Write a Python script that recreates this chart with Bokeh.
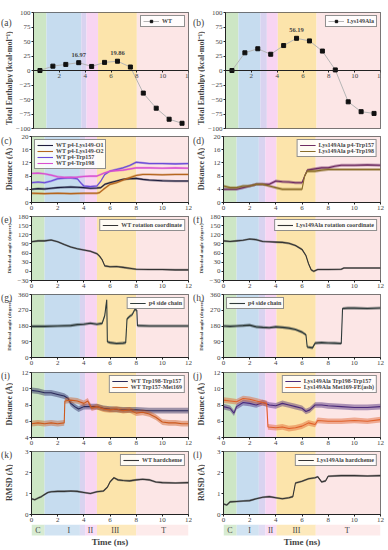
import numpy as np
from bokeh.plotting import figure
from bokeh.layouts import column, row
from bokeh.models import BoxAnnotation, Label, Legend, LegendItem, Range1d
from bokeh.embed import file_html
from bokeh.resources import INLINE

FONT = "Liberation Serif"

# ---------------- data ----------------
T_TICKS = [0, 2, 4, 6, 8, 10, 12]
PHASE_COLORS = ["#cde6c5", "#c6dcef", "#d9d3f0", "#f8d5f2", "#fce4ab", "#fce6e6"]
WT_EDGES = [0, 1.0, 3.7, 4.1, 5.0, 8.0, 12]
LYS_EDGES = [0, 1.0, 2.7, 3.2, 4.05, 7.05, 12]
PHASE_NAMES = ["C", "I", "II", "III", "T"]
WT_NAME_X = [0.5, 2.85, 4.5, 6.4, 10.1]
LYS_NAME_X = [0.5, 2.0, 3.6, 5.57, 9.46]

WINDOW_T = [0.5, 1.5, 2.5, 3.5, 4.5, 5.5, 6.5, 7.5, 8.5, 9.5, 10.5, 11.5]
WT_ENTHALPY = [0, 7.5, 10.5, 13.5, 7, 14, 16, 6, -39, -65, -84, -91]
LYS_ENTHALPY = [0, 30.5, 37.5, 28, 43, 55.5, 51, 33.5, 1, -54, -71, -74]
WT_PEAKS = [(3, "16.97"), (6, "19.86")]
LYS_PEAKS = [(5, "56.19")]
ENTHALPY_TICKS = [-100, -75, -50, -25, 0, 25, 50, 75, 100]

# (c) WT distances
WT_O1_T = [0, 0.5, 1, 1.5, 2, 2.5, 3, 3.5, 4, 4.5, 5, 5.3, 5.6, 6, 6.5, 7, 7.5, 8, 8.5, 9, 10, 11, 12]
WT_O1_V = [4.0, 4.2, 4.1, 4.3, 4.5, 4.6, 4.7, 4.6, 4.5, 4.3, 4.4, 4.5, 5.5, 6.0, 6.5, 7.0, 7.2, 7.3, 7.0, 6.8, 6.6, 6.5, 6.5]
WT_O2_T = [0, 1, 2, 3, 4, 5, 5.2, 5.5, 6, 6.5, 7, 7.5, 8, 8.5, 9, 10, 11, 12]
WT_O2_V = [2.8, 2.7, 2.8, 2.7, 2.8, 2.8, 3.0, 4.0, 5.5, 6.0, 6.8, 7.5, 8.2, 8.5, 8.5, 8.4, 8.5, 8.5]
WT_W157_T = [0, 0.5, 1, 1.5, 2, 2.5, 3, 3.5, 3.8, 4, 4.5, 5, 5.3, 5.6, 6, 6.5, 7, 7.5, 8, 8.5, 9, 10, 11, 12]
WT_W157_V = [6.0, 6.2, 6.0, 6.5, 7.2, 7.4, 7.5, 7.2, 5.8, 5.0, 4.8, 5.0, 6.5, 8.5, 9.5, 10.0, 10.5, 11.2, 12.2, 12.0, 11.8, 11.8, 11.7, 11.8]
WT_W198_T = [0, 0.5, 1, 1.5, 2, 2.5, 3, 3.5, 4, 4.5, 5, 5.3, 5.6, 6, 7, 8, 9, 10, 11, 12]
WT_W198_V = [8.8, 8.9, 8.7, 8.3, 7.8, 7.6, 7.6, 7.7, 7.9, 8.0, 8.0, 8.5, 9.0, 9.5, 9.8, 10.5, 10.5, 10.4, 10.5, 10.4]

# (d) Lys149Ala distances
LYS_W157_T = [0, 0.5, 1, 1.5, 2, 2.5, 3, 3.5, 4, 4.5, 5, 5.5, 6, 6.2, 6.4, 7, 7.5, 8, 8.5, 9, 10, 11, 12]
LYS_W157_V = [4.0, 4.0, 4.0, 4.5, 5.0, 5.5, 5.5, 5.5, 6.5, 6.3, 6.2, 6.0, 6.0, 8.0, 9.8, 10.2, 10.5, 10.5, 11.0, 11.3, 11.3, 11.4, 11.3]
LYS_W198_T = [0, 0.5, 1, 1.5, 2, 2.5, 3, 3.5, 4, 4.5, 5, 5.5, 6, 6.2, 6.4, 7, 7.5, 8, 8.5, 9, 10, 11, 12]
LYS_W198_V = [5.0, 4.5, 4.5, 5.0, 5.0, 5.5, 5.5, 5.0, 4.5, 4.0, 4.0, 4.0, 4.0, 8.0, 9.5, 9.5, 9.8, 10.0, 10.0, 10.0, 10.0, 10.0, 10.0]

# (e)/(f) rotation coordinate
WT_ROT_T = [0, 0.5, 1, 1.5, 2, 2.5, 3, 3.5, 4, 4.5, 5, 5.2, 5.4, 5.6, 6, 6.5, 7, 7.5, 8, 9, 10, 11, 12]
WT_ROT_V = [97, 100, 100, 103, 97, 88, 80, 74, 70, 66, 58, 50, 38, 18, 15, 16, 13, 10, 7, 6, 6, 5, 5]
LYS_ROT_T = [0, 0.5, 1, 1.5, 2, 2.5, 3, 3.5, 4, 4.5, 5, 5.5, 6, 6.3, 6.5, 6.7, 6.9, 7.2, 8, 9, 9.2, 10, 11, 12]
LYS_ROT_V = [100, 98, 100, 102, 106, 104, 98, 97, 96, 95, 92, 85, 72, 52, 25, 5, 0, 6, 6, 7, 11, 11, 11, 11]

# (g)/(h) p4 side chain
WT_SIDE_T = [0, 1, 2, 3, 3.5, 4, 4.5, 5, 5.4, 5.6, 5.75, 5.8, 6, 6.5, 7, 7.2, 7.3, 7.5, 7.7, 7.9, 8.05, 8.1, 9, 10, 11, 12]
WT_SIDE_V = [178, 178, 180, 182, 188, 190, 196, 190, 195, 240, 330, 90, 85, 80, 82, 85, 220, 235, 245, 275, 270, 182, 180, 180, 180, 180]
LYS_SIDE_T = [0, 0.5, 1, 1.5, 2, 2.5, 3, 3.5, 4, 4.5, 5, 5.5, 6, 6.3, 6.4, 6.8, 7, 7.5, 8, 8.5, 9, 9.1, 9.5, 10, 11, 12]
LYS_SIDE_V = [180, 178, 180, 182, 185, 175, 172, 170, 175, 172, 168, 160, 145, 130, 60, 55, 82, 85, 83, 82, 80, 280, 282, 282, 280, 283]

# (i)/(j) residue distances
WT_D1_T = [0, 0.5, 1, 1.5, 2, 2.5, 2.8, 3, 3.3, 3.6, 4, 4.5, 5, 5.5, 6, 7, 8, 9, 10, 11, 12]
WT_D1_V = [9.8, 9.7, 9.5, 9.5, 9.3, 9.1, 8.8, 8.2, 7.8, 7.5, 7.8, 7.8, 7.8, 7.6, 7.5, 7.4, 7.4, 7.3, 7.3, 7.3, 7.3]
WT_D2_T = [0, 0.5, 1, 1.5, 2, 2.5, 2.55, 3, 3.5, 4, 4.3, 4.6, 5, 5.5, 6, 6.5, 7, 7.5, 8, 8.5, 9, 9.5, 10, 10.5, 11, 11.5, 12]
WT_D2_V = [5.7, 5.8, 5.7, 5.8, 5.7, 5.8, 8.5, 8.6, 8.5, 8.2, 8.5, 7.6, 7.8, 7.5, 7.4, 7.5, 7.3, 7.4, 7.0, 7.1, 6.9, 6.5, 5.9, 5.8, 5.8, 5.7, 5.7]
LYS_D1_T = [0, 0.5, 0.8, 1, 1.5, 2, 2.5, 3, 3.5, 4, 4.5, 5, 5.5, 6, 6.3, 6.6, 7, 7.5, 8, 9, 10, 11, 12]
LYS_D1_V = [7.8, 7.6, 7.0, 7.8, 8.3, 8.2, 8.0, 8.3, 8.0, 7.9, 8.2, 8.0, 7.8, 7.6, 7.2, 7.4, 8.0, 8.0, 7.9, 7.8, 7.7, 7.7, 7.8]
LYS_D2_T = [0, 0.5, 1, 1.5, 2, 2.5, 3, 3.3, 3.4, 4, 4.5, 5, 5.5, 6, 6.5, 7, 7.2, 8, 9, 10, 11, 12]
LYS_D2_V = [8.6, 8.5, 8.4, 8.8, 8.7, 8.5, 8.3, 8.2, 5.3, 5.2, 5.3, 5.1, 5.2, 5.4, 5.8, 5.6, 6.1, 6.0, 6.0, 6.1, 6.0, 6.2]

# (k)/(l) RMSD
WT_RMSD_T = [0, 0.25, 0.5, 0.75, 1, 1.25, 1.5, 2, 2.5, 3, 3.5, 4, 4.5, 5, 5.5, 5.8, 6, 6.3, 6.6, 7, 7.5, 8, 8.5, 9, 9.5, 10, 11, 12]
WT_RMSD_V = [0.75, 0.7, 0.78, 0.85, 0.95, 1.05, 1.08, 1.1, 1.1, 1.12, 1.1, 1.05, 1.0, 1.08, 1.12, 1.3, 1.55, 1.75, 1.65, 1.62, 1.6, 1.65, 1.68, 1.65, 1.55, 1.52, 1.5, 1.52]
LYS_RMSD_T = [0, 0.25, 0.5, 1, 1.5, 2, 2.5, 3, 3.5, 4, 4.5, 5, 5.3, 5.5, 5.8, 6, 6.5, 7, 7.2, 7.5, 7.8, 8, 9, 10, 11, 12]
LYS_RMSD_V = [0.5, 0.45, 0.6, 0.62, 0.64, 0.66, 0.75, 0.82, 0.85, 0.8, 0.75, 0.8, 0.85, 1.5, 1.55, 1.58, 1.7, 1.75, 1.8, 1.55, 1.6, 1.82, 1.85, 1.85, 1.83, 1.85]

SPREAD = {"dist_c": 0.35, "dist_d": 0.45, "rot": 3.5, "side": 9, "dist_ij": 0.35, "rmsd": 0.05}

# ---------------- layout helpers ----------------
GUT_W = [13, 13]          # gutter holding panel tag + y title
BORDER_L = 18             # tick labels
COL_R = [4, 6]
FRAME_W = 157


def gutter(col, H, top, frame_h, tag, ylabel, ylabel_size, shift):
    w = GUT_W[col]
    g = figure(width=w, height=H, x_range=Range1d(0, w), y_range=Range1d(0, H),
               output_backend="svg", toolbar_location=None, title=None, min_border=0)
    g.axis.visible = False
    g.grid.visible = False
    g.outline_line_color = None
    if tag:
        g.add_layout(Label(x=0.5, y=H - top, text=tag, text_font=FONT, text_font_size="9.5px",
                           text_baseline="middle", text_align="left"))
    if ylabel:
        g.add_layout(Label(x=w - 4.5, y=H - top - frame_h / 2 - shift, text=ylabel, text_font=FONT,
                           text_font_size=ylabel_size, text_font_style="bold", angle=90, angle_units="deg",
                           text_align="center", text_baseline="middle"))
    return g


def panel(col, y0, y1, yticks, edges, top, frame_h, bottom):
    p = figure(width=BORDER_L + FRAME_W + COL_R[col], height=top + frame_h + bottom,
               x_range=Range1d(0, 12), y_range=Range1d(y0, y1),
               output_backend="svg", toolbar_location=None, title=None,
               min_border_left=BORDER_L, min_border_right=COL_R[col],
               min_border_top=top, min_border_bottom=bottom)
    p.grid.visible = False
    p.outline_line_color = "#222222"
    p.outline_line_width = 0.8
    p.border_fill_color = "white"
    for i in range(len(edges) - 1):
        p.add_layout(BoxAnnotation(left=edges[i], right=edges[i + 1], fill_color=PHASE_COLORS[i],
                                   fill_alpha=1.0, line_color=None, level="underlay"))
    for ax in (p.xaxis[0], p.yaxis[0]):
        ax.major_label_text_font = FONT
        ax.major_label_text_font_size = "7px"
        ax.major_tick_in = 0
        ax.major_tick_out = 2
        ax.minor_tick_line_color = None
        ax.axis_line_color = "#222222"
        ax.major_tick_line_color = "#222222"
        ax.major_label_standoff = 1
    p.xaxis.ticker = T_TICKS
    p.yaxis.ticker = yticks
    return p


def trace(p, t, v, s, color):
    t = np.array(t, dtype=float)
    v = np.array(v, dtype=float)
    p.varea(x=t, y1=v - s, y2=v + s, fill_color=color, fill_alpha=0.45)
    return p.line(t, v, line_color=color, line_width=1.1)


def legend(p, items, loc):
    leg = Legend(items=[LegendItem(label=l, renderers=r if isinstance(r, list) else [r]) for l, r in items],
                 location=loc, label_text_font=FONT, label_text_font_size="6px",
                 label_text_font_style="bold", label_height=6, glyph_height=6, glyph_width=16,
                 label_standoff=3, spacing=0, padding=2, margin=3,
                 border_line_color="#222222", border_line_width=0.6,
                 background_fill_color="white", background_fill_alpha=0.85)
    p.add_layout(leg)


def strip(col, edges, names_x):
    H = 25
    p = figure(width=BORDER_L + FRAME_W + COL_R[col], height=H, x_range=Range1d(0, 12), y_range=Range1d(0, H),
               output_backend="svg", toolbar_location=None, title=None,
               min_border_left=BORDER_L, min_border_right=COL_R[col],
               min_border_top=0, min_border_bottom=0)
    p.axis.visible = False
    p.grid.visible = False
    p.outline_line_color = None
    for i in range(len(edges) - 1):
        p.add_layout(BoxAnnotation(left=edges[i], right=edges[i + 1], bottom=H - 11, top=H,
                                   fill_color=PHASE_COLORS[i], fill_alpha=0.8, line_color=None,
                                   level="underlay"))
    for nm, x in zip(PHASE_NAMES, names_x):
        p.add_layout(Label(x=x, y=H - 5.5, text=nm, text_font=FONT, text_font_size="8px",
                           text_align="center", text_baseline="middle"))
    p.add_layout(Label(x=6, y=H - 17.5, text="Time (ns)", text_font=FONT, text_font_size="9px",
                       text_font_style="bold", text_align="center", text_baseline="middle"))
    return p


def make_row(left, right):
    out = []
    for col, spec in enumerate((left, right)):
        p, tag, ylabel, size, top, fh, bottom, shift = spec
        out.append(gutter(col, top + fh + bottom, top, fh, tag, ylabel, size, shift))
        out.append(p)
    return row(*out)


# ---------------- panels ----------------
ENTH_LABEL = "Total Enthalpy (kcal\u00b7mol\u207b\u00b9)"


def enthalpy_panel(col, edges, values, peaks, name):
    p = panel(col, -100, 100, ENTHALPY_TICKS, edges, 12, 116, 3)
    p.xaxis.fixed_location = 0
    p.xaxis.major_label_overrides = {0: ""}
    ln = p.line(WINDOW_T, values, line_color="#b5b5b5", line_width=1)
    sc = p.scatter(WINDOW_T, values, marker="square", size=4, color="#111111")
    for idx, txt in peaks:
        p.add_layout(Label(x=WINDOW_T[idx], y=values[idx], y_offset=6, text=txt, text_font=FONT,
                           text_font_size="6.5px", text_font_style="bold", text_align="center",
                           text_baseline="bottom"))
    legend(p, [(name, [ln, sc])], "top_right")
    return p


pa = enthalpy_panel(0, WT_EDGES, WT_ENTHALPY, WT_PEAKS, "WT")
pb = enthalpy_panel(1, LYS_EDGES, LYS_ENTHALPY, LYS_PEAKS, "Lys149Ala")

pc = panel(0, 0, 20, [0, 4, 8, 12, 16, 20], WT_EDGES, 5, 66, 10)
r1 = trace(pc, WT_O1_T, WT_O1_V, SPREAD["dist_c"], "#1c1c3c")
r2 = trace(pc, WT_O2_T, WT_O2_V, SPREAD["dist_c"], "#b5651d")
r3 = trace(pc, WT_W157_T, WT_W157_V, SPREAD["dist_c"], "#6a4bd8")
r4 = trace(pc, WT_W198_T, WT_W198_V, SPREAD["dist_c"], "#d94fd0")
legend(pc, [("WT p4-Lys149-O1", r1), ("WT p4-Lys149-O2", r2), ("WT p4-Trp157", r3), ("WT p4-Trp198", r4)], "top_left")

pd = panel(1, 0, 20, [0, 4, 8, 12, 16, 20], LYS_EDGES, 5, 66, 10)
r1 = trace(pd, LYS_W157_T, LYS_W157_V, SPREAD["dist_d"], "#6e2b62")
r2 = trace(pd, LYS_W198_T, LYS_W198_V, SPREAD["dist_d"], "#8a6d2a")
legend(pd, [("Lys149Ala p4-Trp157", r1), ("Lys149Ala p4-Trp198", r2)], "top_right")

ROT_TICKS = [-30, 0, 30, 60, 90, 120, 150, 180]
pe = panel(0, -30, 180, ROT_TICKS, WT_EDGES, 4, 64, 10)
r = trace(pe, WT_ROT_T, WT_ROT_V, SPREAD["rot"], "#333333")
legend(pe, [("WT rotation coordinate", r)], "top_right")

pf = panel(1, -30, 180, ROT_TICKS, LYS_EDGES, 4, 64, 10)
r = trace(pf, LYS_ROT_T, LYS_ROT_V, SPREAD["rot"], "#333333")
legend(pf, [("Lys149Ala rotation coordinate", r)], "top_right")

SIDE_TICKS = [0, 90, 180, 270, 360]
pg = panel(0, 0, 360, SIDE_TICKS, WT_EDGES, 4, 63, 11)
r = trace(pg, WT_SIDE_T, WT_SIDE_V, SPREAD["side"], "#2f3b3b")
legend(pg, [("p4 side chain", r)], "top_right")

ph = panel(1, 0, 360, SIDE_TICKS, LYS_EDGES, 4, 63, 11)
r = trace(ph, LYS_SIDE_T, LYS_SIDE_V, SPREAD["side"], "#2f3b3b")
legend(ph, [("p4 side chain", r)], "top_left")

D_TICKS = [4, 6, 8, 10, 12]
pi = panel(0, 4, 12, D_TICKS, WT_EDGES, 4, 65, 10)
r1 = trace(pi, WT_D1_T, WT_D1_V, SPREAD["dist_ij"], "#2a2a5a")
r2 = trace(pi, WT_D2_T, WT_D2_V, SPREAD["dist_ij"], "#cc5a1e")
legend(pi, [("WT Trp198-Trp157", r1), ("WT Trp157-Met169", r2)], "top_right")

pj = panel(1, 4, 12, D_TICKS, LYS_EDGES, 4, 65, 10)
r1 = trace(pj, LYS_D1_T, LYS_D1_V, SPREAD["dist_ij"], "#4b2a7a")
r2 = trace(pj, LYS_D2_T, LYS_D2_V, SPREAD["dist_ij"], "#e0602a")
legend(pj, [("Lys149Ala Trp198-Trp157", r1), ("Lys149Ala Met169-FE(ash)", r2)], "top_right")

R_TICKS = [0, 1, 2, 3]
pk = panel(0, 0, 3, R_TICKS, WT_EDGES, 4, 64, 9)
r = trace(pk, WT_RMSD_T, WT_RMSD_V, SPREAD["rmsd"], "#333333")
legend(pk, [("WT hardcheme", r)], "top_right")

pl = panel(1, 0, 3, R_TICKS, LYS_EDGES, 4, 64, 9)
r = trace(pl, LYS_RMSD_T, LYS_RMSD_V, SPREAD["rmsd"], "#333333")
legend(pl, [("Lys149Ala hardcheme", r)], "top_right")

sk = strip(0, WT_EDGES, WT_NAME_X)
sl = strip(1, LYS_EDGES, LYS_NAME_X)

DIST = "Distance (\u00c5)"
DIH = "Dihedral angle (degree)"
rows = [
    make_row((pa, "(a)", ENTH_LABEL, "8px", 12, 116, 3, 4), (pb, "(b)", ENTH_LABEL, "8px", 12, 116, 3, 4)),
    make_row((pc, "(c)", DIST, "8px", 5, 66, 10, 2), (pd, "(d)", DIST, "8px", 5, 66, 10, 2)),
    make_row((pe, "(e)", DIH, "5px", 4, 64, 10, 3), (pf, "(f)", DIH, "5px", 4, 64, 10, 3)),
    make_row((pg, "(g)", DIH, "5px", 4, 63, 11, 3), (ph, "(h)", DIH, "5px", 4, 63, 11, 3)),
    make_row((pi, "(i)", DIST, "8px", 4, 65, 10, 2), (pj, "(j)", DIST, "8px", 4, 65, 10, 2)),
    make_row((pk, "(k)", "RMSD (\u00c5)", "8px", 4, 64, 9, 2), (pl, "(l)", "RMSD (\u00c5)", "8px", 4, 64, 9, 2)),
    make_row((sk, None, None, "8px", 0, 25, 0, 0), (sl, None, None, "8px", 0, 25, 0, 0)),
]
layout = column(*rows)

open("out.html", "w").write(file_html(layout, INLINE))
